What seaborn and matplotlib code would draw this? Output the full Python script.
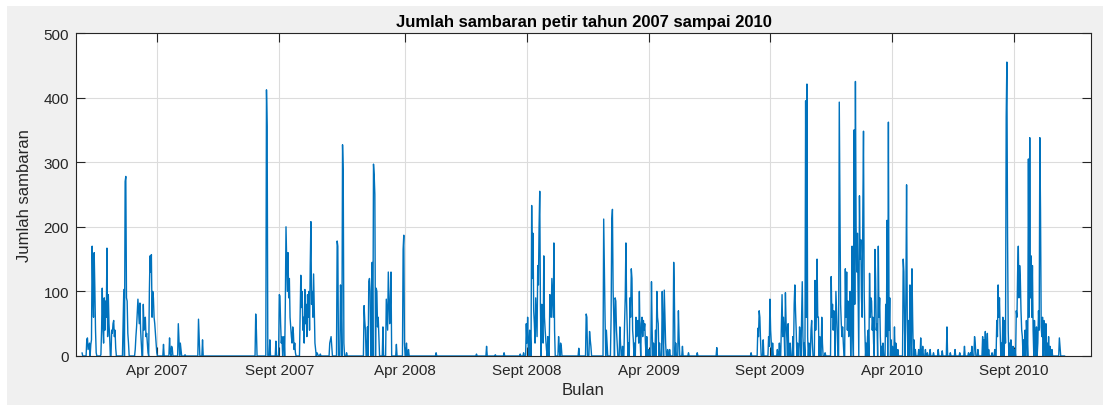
import numpy as np
import pandas as pd
import matplotlib
matplotlib.use("Agg")
import matplotlib.pyplot as plt
import seaborn as sns
from matplotlib.patches import Rectangle

# ============================================================
# Data: jumlah sambaran harian (hari ke-, nilai), hari lain = 0
# ============================================================
jumlah_hari = 1461

musim_2007 = [
    (0, 5), (7, 25), (8, 28), (9, 10), (10, 15), (11, 20), (13, 18), (14, 25),
    (15, 170), (16, 100), (17, 60), (18, 160), (19, 105), (20, 40), (21, 5),
    (28, 2), (29, 40), (30, 105), (31, 45), (32, 20), (33, 90), (34, 40),
    (35, 85), (36, 60), (37, 167), (38, 30), (39, 95), (40, 50), (41, 30),
    (44, 40), (45, 35), (46, 50), (47, 55), (48, 30), (49, 40), (50, 12),
    (61, 55), (62, 103), (64, 270), (65, 278), (66, 90), (67, 85), (68, 35),
    (69, 20), (79, 10), (80, 30), (81, 45), (82, 65), (83, 88), (84, 70),
    (85, 50), (86, 82), (87, 40), (88, 20), (91, 80), (92, 40), (93, 45),
    (94, 60), (95, 30), (96, 35), (97, 20), (98, 5), (100, 100), (101, 155),
    (102, 130), (103, 157), (104, 60), (105, 100), (106, 90), (107, 60),
    (108, 50), (109, 35), (110, 20), (111, 5), (121, 18), (130, 28), (131, 5),
    (133, 15), (134, 12), (143, 50), (144, 25), (146, 20), (147, 10), (153, 2),
]

musim_2008 = [
    (173, 57), (174, 30), (179, 25), (258, 65), (259, 40),
    (274, 412), (275, 355), (279, 25), (288, 23),
    (293, 95), (294, 93), (295, 50), (296, 20), (297, 30), (299, 20),
    (300, 30), (302, 80), (303, 200), (304, 150), (305, 100), (306, 160),
    (307, 90), (308, 120), (309, 60), (310, 45), (311, 30), (312, 20),
    (313, 45), (314, 35), (315, 10), (316, 20), (317, 5),
    (324, 60), (325, 125), (326, 75), (327, 100), (328, 40), (329, 60),
    (330, 20), (331, 103), (332, 50), (333, 80), (334, 30), (335, 95),
    (336, 60), (337, 100), (338, 40), (339, 140), (340, 208), (341, 80),
    (342, 100), (343, 60), (344, 127), (345, 75), (346, 20), (347, 10),
    (349, 5), (350, 3), (354, 3), (368, 20), (369, 25), (370, 30), (371, 15),
    (379, 178), (380, 170), (384, 110), (385, 70), (387, 327), (388, 285),
    (389, 20), (393, 5), (419, 78), (420, 55), (421, 40), (424, 45),
    (426, 115), (427, 120), (428, 100), (431, 145), (433, 297), (434, 280),
    (435, 250), (437, 105), (438, 100), (439, 45), (440, 60), (441, 30),
    (447, 45), (452, 88), (453, 65), (454, 40), (455, 130), (456, 90),
    (457, 50), (458, 80), (459, 130), (467, 18), (477, 165), (478, 187),
    (479, 20), (482, 20), (485, 10), (526, 5),
]

musim_2009 = [
    (586, 3), (601, 15), (614, 2), (627, 5), (651, 3), (656, 5),
    (660, 50), (661, 20), (662, 60), (663, 15), (665, 40), (666, 30),
    (668, 233), (669, 120), (670, 190), (671, 70), (672, 50), (673, 20),
    (674, 90), (675, 60), (676, 30), (677, 140), (678, 110), (679, 200),
    (680, 255), (681, 80), (683, 80), (684, 30), (685, 20), (686, 155),
    (687, 60), (688, 40), (689, 25), (690, 10), (692, 30), (695, 95),
    (696, 80), (697, 60), (698, 120), (699, 90), (700, 60), (701, 175),
    (702, 40), (708, 30), (709, 10), (711, 20), (712, 15), (738, 12),
    (749, 65), (750, 60), (754, 38), (755, 25), (756, 15),
    (775, 212), (776, 130), (777, 60), (779, 40), (780, 20),
    (786, 60), (787, 210), (788, 227), (789, 100), (790, 60), (792, 90),
    (793, 85), (794, 40), (795, 20), (799, 45), (800, 20), (803, 15),
    (806, 50), (807, 90), (808, 175), (809, 85), (810, 40), (812, 20),
    (814, 90), (815, 60), (816, 135), (817, 120), (818, 40), (819, 25),
    (821, 20), (823, 60), (824, 30), (825, 45), (826, 55), (827, 20),
    (828, 100), (829, 30), (831, 50), (832, 60), (833, 30), (834, 55),
    (835, 40), (836, 50), (837, 20), (839, 30), (842, 10), (846, 115),
    (847, 40), (849, 20), (852, 40), (854, 100), (855, 60), (856, 50),
    (858, 20), (862, 100), (863, 40), (865, 102), (866, 60), (867, 20),
    (870, 10), (873, 10), (879, 145), (880, 95), (882, 20), (886, 70),
    (887, 30), (892, 15), (901, 5), (914, 5),
]

musim_2010 = [
    (943, 13), (994, 5), (1004, 43), (1005, 30), (1006, 70), (1007, 60),
    (1008, 25), (1012, 25), (1020, 30), (1021, 15), (1022, 88), (1023, 40),
    (1024, 20), (1026, 20), (1033, 10), (1036, 20), (1039, 45), (1040, 95),
    (1041, 30), (1042, 60), (1043, 40), (1045, 98), (1046, 50), (1047, 30),
    (1049, 50), (1052, 20), (1056, 30), (1058, 80), (1059, 110), (1060, 70),
    (1061, 40), (1063, 20), (1066, 45), (1067, 30), (1069, 60), (1070, 115),
    (1071, 30), (1073, 20), (1075, 395), (1076, 60), (1077, 421), (1078, 30),
    (1080, 20), (1083, 40), (1084, 55), (1085, 20), (1089, 117), (1090, 40),
    (1091, 80), (1092, 150), (1093, 60), (1094, 60), (1096, 30), (1099, 60),
    (1100, 20), (1104, 5), (1113, 123), (1114, 60), (1115, 80), (1116, 40),
    (1117, 70), (1118, 50), (1120, 100), (1121, 70), (1122, 40),
    (1125, 393), (1126, 240), (1127, 80), (1128, 50), (1129, 30), (1130, 45),
    (1131, 20), (1134, 135), (1135, 60), (1136, 130), (1137, 40), (1138, 85),
    (1139, 30), (1140, 60), (1141, 100), (1143, 60), (1144, 170), (1145, 40),
    (1147, 350), (1148, 80), (1149, 425), (1150, 200), (1151, 130),
    (1152, 190), (1153, 100), (1155, 248), (1156, 150), (1157, 180),
    (1158, 90), (1159, 60), (1160, 220), (1161, 348), (1162, 100),
    (1163, 40), (1165, 20), (1167, 30), (1168, 40), (1170, 128), (1171, 60),
    (1172, 90), (1173, 85), (1174, 40), (1175, 60), (1176, 20), (1178, 165),
    (1179, 120), (1180, 40), (1181, 50), (1183, 170), (1184, 60), (1185, 90),
    (1186, 30), (1188, 15), (1190, 20), (1194, 80), (1195, 30), (1196, 210),
    (1198, 362), (1199, 40), (1200, 90), (1202, 25), (1204, 15), (1207, 45),
    (1209, 20), (1212, 10), (1220, 150), (1221, 130), (1222, 40), (1224, 100),
    (1225, 265), (1226, 60), (1228, 55), (1230, 110), (1231, 80), (1233, 135),
    (1234, 60), (1236, 25), (1238, 10), (1243, 10), (1246, 28), (1249, 15),
    (1253, 10), (1256, 5), (1260, 10), (1265, 5), (1272, 10), (1278, 8),
    (1285, 45), (1290, 5), (1297, 10), (1304, 5), (1311, 15), (1317, 5),
]

musim_2011 = [
    (1320, 5), (1322, 15), (1326, 30), (1327, 20), (1331, 10), (1338, 30),
    (1340, 25), (1342, 38), (1345, 35), (1347, 10), (1352, 5), (1356, 10),
    (1359, 55), (1360, 30), (1361, 110), (1362, 60), (1363, 90), (1364, 40),
    (1366, 20), (1368, 60), (1369, 40), (1371, 55), (1372, 20), (1373, 370),
    (1374, 455), (1375, 190), (1376, 40), (1378, 20), (1380, 25), (1383, 15),
    (1386, 10), (1388, 70), (1389, 60), (1390, 130), (1391, 170), (1392, 90),
    (1393, 140), (1394, 120), (1395, 70), (1396, 40), (1397, 30), (1399, 25),
    (1401, 40), (1403, 55), (1404, 30), (1406, 305), (1407, 60), (1408, 338),
    (1409, 90), (1410, 155), (1411, 60), (1412, 140), (1413, 40), (1415, 55),
    (1416, 30), (1418, 45), (1420, 20), (1421, 70), (1422, 40), (1423, 338),
    (1424, 225), (1425, 45), (1426, 30), (1427, 60), (1429, 55), (1430, 40),
    (1432, 50), (1434, 20), (1436, 30), (1438, 15), (1441, 10), (1452, 28),
    (1453, 15),
]

posisi_tick = [111, 293, 480, 661, 842, 1022, 1203, 1384]
label_tick = ["Apr 2007", "Sept 2007", "Apr 2008", "Sept 2008",
              "Apr 2009", "Sept 2009", "Apr 2010", "Sept 2010"]

# ============================================================
# Susun deret harian
# ============================================================
nilai = np.zeros(jumlah_hari)
for musim in (musim_2007, musim_2008, musim_2009, musim_2010, musim_2011):
    for hari, v in musim:
        nilai[hari] = v
df = pd.DataFrame({"hari": np.arange(jumlah_hari), "sambaran": nilai})

sns.set_theme(style="whitegrid")
plt.rcParams["font.family"] = ["Liberation Sans", "DejaVu Sans"]

fig = plt.figure(figsize=(11.03, 4.06), dpi=100, facecolor="white")
fig.patches.append(Rectangle((7 / 1103, 0), 1, 399 / 406, transform=fig.transFigure,
                             facecolor="#f0f0f0", edgecolor="none", zorder=-10))
ax = fig.add_axes([76 / 1103, 49 / 406, 1015 / 1103, 323 / 406])
ax.set_facecolor("white")

sns.lineplot(data=df, x="hari", y="sambaran", ax=ax, color="#0072BD",
             linewidth=1.0, estimator=None, errorbar=None)

ax.set_xlim(-9, 1499)
ax.set_ylim(0, 500)
ax.set_xticks(posisi_tick)
ax.set_xticklabels(label_tick)
ax.set_yticks(range(0, 501, 100))

ax.grid(True, color="#dcdcdc", linewidth=0.8)
ax.set_axisbelow(True)
for side in ax.spines.values():
    side.set_color("#262626")
    side.set_linewidth(0.8)
    side.set_visible(True)

ax.tick_params(axis="both", direction="in", length=6.5, width=0.8, color="#262626",
               labelsize=11, labelcolor="#262626", pad=5,
               top=True, right=True, bottom=True, left=True)

ax.set_title("Jumlah sambaran petir tahun 2007 sampai 2010", fontsize=12,
             fontweight="bold", color="black", pad=5)
ax.set_xlabel("Bulan", fontsize=12, color="#262626", labelpad=4)
ax.set_ylabel("Jumlah sambaran", fontsize=12, color="#262626", labelpad=8)

fig.savefig("out.png", dpi=100, facecolor=fig.get_facecolor())
